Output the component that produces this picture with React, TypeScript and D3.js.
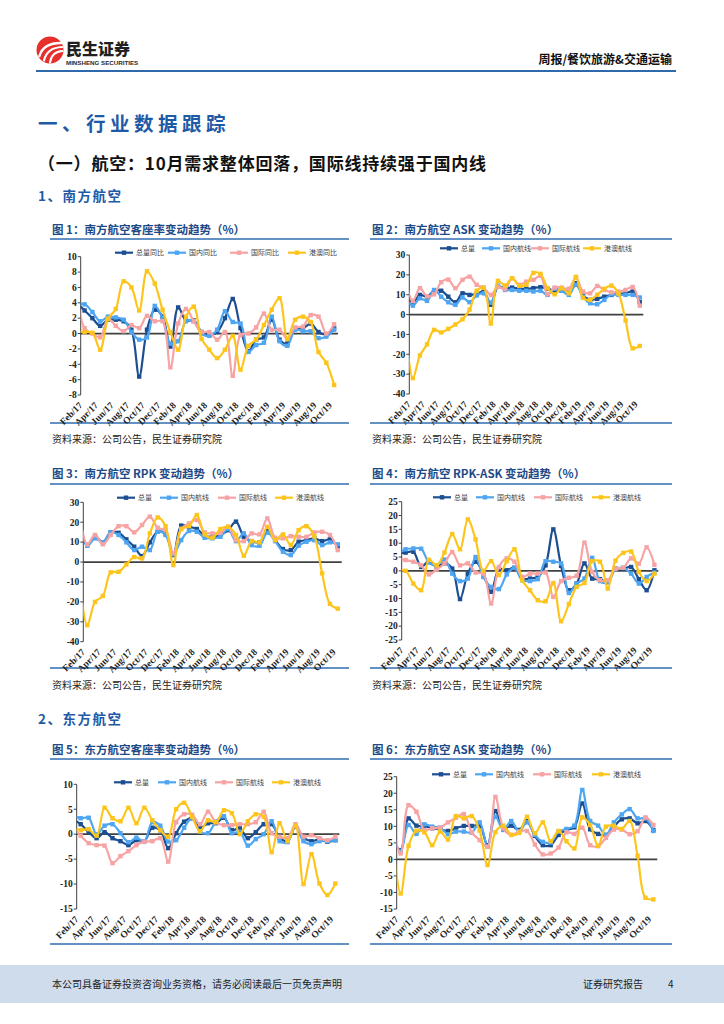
import React from 'react';
import * as d3 from 'd3';

// Month categories. Index 0 (Jan/17) is the lead-in value that Excel draws from the axis edge.
const MONTHS = [
  'Jan/17', 'Feb/17', 'Mar/17', 'Apr/17', 'May/17', 'Jun/17', 'Jul/17', 'Aug/17', 'Sep/17', 'Oct/17', 'Nov/17', 'Dec/17',
  'Jan/18', 'Feb/18', 'Mar/18', 'Apr/18', 'May/18', 'Jun/18', 'Jul/18', 'Aug/18', 'Sep/18', 'Oct/18', 'Nov/18', 'Dec/18',
  'Jan/19', 'Feb/19', 'Mar/19', 'Apr/19', 'May/19', 'Jun/19', 'Jul/19', 'Aug/19', 'Sep/19', 'Oct/19',
];

const LEGEND_A = ['总量同比', '国内同比', '国际同比', '港澳同比'];
const LEGEND_B = ['总量', '国内航线', '国际航线', '港澳航线'];

// 图1 南方航空客座率变动
const c1Total = [4.0, 3.0, 2.0, 1.0, 1.8, 1.8, 1.6, 0.5, -5.6, 0.5, 3.1, 2.2, -1.7, 3.4, 1.7, 1.7, 0.2, -0.2, 0.2, 2.0, 4.5, 0.7, -2.3, -0.8, -0.5, 1.8, -0.8, -1.3, 0.7, 0.7, 1.3, 0.2, -0.1, 0.7];
const c1Dom = [3.8, 3.8, 2.8, 1.6, 2.2, 2.1, 1.8, 0.2, -0.8, -0.5, 3.6, 2.0, -1.3, -1.0, 1.6, 1.6, 0.0, -0.3, 0.5, 2.9, 1.5, 1.3, -2.4, -1.5, -1.2, 2.2, -1.0, -1.6, 0.5, 0.3, 0.3, -0.6, -0.4, 0.5];
const c1Intl = [5.1, 0.7, 0.0, -0.5, 1.9, 1.0, 0.3, 1.1, 0.7, 2.3, 1.6, 1.6, -4.4, 1.3, 3.2, 1.6, 0.2, 0.2, -0.8, 0.2, -5.5, -0.2, 0.0, 0.8, 2.6, 0.5, 0.5, -0.7, 0.8, 0.9, 2.4, 2.2, 0.0, 1.2];
const c1HK = [0.2, 0.2, 0.1, -2.1, 1.9, 3.2, 6.8, 6.0, 3.0, 8.1, 6.5, 3.1, 0.2, -2.1, 2.2, 3.5, -0.7, -2.1, -3.2, -2.1, -0.3, -4.7, -1.6, -0.8, 1.1, 3.1, 4.6, -0.7, 1.8, 2.2, 1.5, -2.4, -3.8, -6.7];

// 图2 南方航空 ASK
const c2Total = [8.6, 6.2, 9.9, 9.0, 12.0, 12.0, 9.0, 6.2, 10.7, 9.9, 10.4, 11.6, 4.9, 14.0, 13.3, 13.6, 13.0, 13.0, 13.3, 13.8, 13.0, 12.0, 12.0, 12.0, 15.8, 9.6, 7.4, 7.9, 9.0, 9.9, 10.4, 10.7, 11.6, 6.2];
const c2Dom = [7.9, 4.5, 8.2, 6.9, 12.4, 9.0, 6.2, 4.9, 8.6, 6.2, 9.6, 10.7, 6.0, 14.6, 12.4, 12.4, 12.0, 12.0, 11.6, 12.0, 9.9, 13.0, 12.0, 9.9, 15.0, 9.0, 5.7, 5.2, 7.4, 10.2, 9.9, 9.9, 9.9, 8.6];
const c2Intl = [17.0, 6.9, 13.3, 9.2, 10.2, 16.3, 17.6, 13.3, 17.5, 19.1, 15.0, 13.6, 9.9, 14.0, 12.8, 18.3, 15.0, 16.6, 17.5, 19.5, 10.2, 13.6, 13.6, 13.0, 18.6, 11.6, 10.7, 14.4, 12.4, 11.2, 11.6, 12.4, 13.9, 4.5];
const c2HK = [-8.6, -32.0, -20.6, -15.0, -7.7, -9.0, -7.2, -5.0, -2.4, 2.5, 12.0, 13.5, -4.5, 17.0, 14.6, 18.3, 14.5, 15.0, 21.0, 20.5, 13.3, 10.2, 13.3, 10.7, 19.0, 8.4, 7.4, 10.0, 13.0, 14.6, 10.6, -3.0, -17.0, -15.8];

// 图3 南方航空 RPK
const c3Total = [15.5, 8.5, 12.7, 9.9, 14.9, 14.7, 11.4, 7.7, 3.0, 9.9, 15.2, 14.4, 3.5, 18.3, 17.7, 16.6, 13.2, 12.7, 13.6, 16.0, 20.3, 12.7, 10.5, 9.9, 16.0, 11.0, 6.5, 6.0, 10.2, 11.0, 11.9, 10.5, 11.4, 7.7];
const c3Dom = [19.8, 8.2, 11.9, 9.9, 14.9, 13.6, 9.9, 6.0, 7.7, 6.0, 15.2, 13.6, 3.9, 11.0, 15.6, 15.2, 12.2, 11.9, 12.7, 16.6, 10.5, 14.4, 8.5, 8.2, 14.7, 10.5, 5.2, 3.5, 8.2, 10.2, 11.0, 8.5, 9.9, 8.9];
const c3Intl = [24.0, 8.9, 13.6, 8.9, 13.6, 18.0, 18.0, 14.9, 18.6, 22.8, 17.2, 16.0, 4.4, 16.6, 19.4, 21.1, 14.9, 14.4, 14.7, 17.7, 11.0, 10.5, 14.4, 13.9, 21.9, 12.2, 11.9, 13.0, 12.7, 12.7, 14.9, 15.2, 13.6, 6.0];
const c3HK = [-8.3, -31.7, -20.0, -17.0, -5.2, -4.9, -1.2, 2.5, 1.8, 14.4, 22.4, 18.0, -1.5, 16.6, 18.0, 23.6, 13.9, 12.2, 16.6, 17.7, 13.6, 3.2, 10.5, 9.9, 17.7, 11.0, 13.9, 8.5, 16.0, 18.0, 13.0, -5.7, -21.0, -23.4];

// 图4 南方航空 RPK-ASK
const c4Total = [6.4, 6.6, 6.9, 1.4, 3.5, 1.4, 2.7, 0.8, -10.2, -1.0, 3.3, -1.0, -7.6, 0.6, 0.2, 1.1, -2.8, -2.8, -2.2, 2.0, 15.0, 1.8, -7.0, -4.6, 2.7, -2.8, -3.0, -4.0, 0.8, 0.8, 1.4, -3.0, -7.0, 0.2];
const c4Dom = [6.2, 7.8, 8.1, 8.0, 3.0, 2.0, 4.1, -1.0, -3.7, -2.8, 5.0, -2.2, -5.8, -6.6, -1.3, 1.1, -3.4, -3.7, -3.0, 3.5, 3.3, 2.7, -8.0, -4.6, -2.8, 4.7, -3.7, -4.2, 0.6, 1.1, -1.0, -4.6, -2.2, -0.6];
const c4Intl = [4.1, 3.9, 3.3, 2.0, -1.3, 0.5, 2.7, 6.8, 2.0, 2.7, -0.6, -1.0, -11.8, 1.4, 4.5, 3.3, -2.2, -1.0, -1.0, -0.6, -9.4, -3.7, -2.5, -1.8, 10.2, -0.4, -3.4, -3.4, 0.8, 1.1, 4.5, 2.6, 8.5, 2.2];
const c4HK = [0.0, 0.0, -4.6, -7.0, 4.0, 2.0, 6.6, 13.3, 7.8, 18.6, 11.4, 0.0, 3.5, -1.5, 3.5, 7.8, -3.4, -7.0, -10.6, -11.0, -4.4, -18.2, -12.0, -5.8, -4.4, 3.5, 3.3, -6.4, 3.7, 6.5, 7.0, -0.4, -3.7, -1.0];

// 图5 东方航空客座率变动
const c5Total = [3.0, 2.0, 0.4, -0.8, 0.4, -0.8, -1.4, -2.2, -1.2, -1.4, 1.3, 0.8, -2.8, 0.2, 2.5, 3.2, 1.3, 2.2, 2.2, 3.3, 0.8, 1.2, -0.8, 0.4, 2.0, 2.0, -0.7, -1.4, 1.5, -0.7, -1.4, -1.0, -1.5, -1.2];
const c5Dom = [3.8, 3.2, 3.3, 0.0, 1.7, 2.0, 0.2, -1.6, -0.7, -1.4, 2.4, 1.7, -1.5, -1.2, 1.3, 3.2, 0.5, 0.2, 2.5, 3.6, 0.2, 0.5, -2.3, -1.0, 0.0, 2.6, -1.4, -1.6, 1.5, -1.4, -2.0, -1.4, -1.4, -1.2];
const c5Intl = [1.3, -0.3, -1.8, -2.2, -2.3, -5.8, -4.4, -3.4, -2.2, -1.5, -1.4, -0.8, -5.5, 2.4, 4.0, 3.9, 2.0, 4.5, 2.4, 1.8, 1.8, 2.0, 2.0, 2.4, 4.5, 0.2, -0.5, -0.8, 2.0, -0.5, -0.2, -0.8, -1.2, -0.5];
const c5HK = [1.2, 0.8, 1.0, -0.3, 5.3, 3.2, 2.6, 5.3, 2.2, 5.3, 2.8, 0.8, -0.5, 5.0, 6.3, 3.5, 0.6, 2.8, 2.4, 4.8, 4.2, 0.0, 2.6, 4.0, 3.5, -3.6, 2.2, -1.4, 1.7, -10.0, -4.0, -9.9, -12.2, -9.9];

// 图6 东方航空 ASK
const c6Total = [5.8, 2.8, 12.4, 10.2, 10.1, 9.4, 9.1, 8.6, 9.4, 10.1, 10.1, 10.2, 4.3, 14.6, 9.2, 10.2, 8.9, 11.6, 7.1, 4.3, 4.3, 7.4, 8.9, 9.7, 16.9, 9.1, 7.7, 7.4, 9.9, 12.1, 12.4, 10.9, 11.6, 8.9];
const c6Dom = [7.1, 2.5, 10.4, 7.7, 10.6, 9.9, 9.6, 7.6, 8.4, 8.4, 8.1, 11.2, 3.8, 12.9, 8.9, 11.6, 8.4, 11.2, 7.4, 5.3, 5.1, 8.4, 9.2, 10.2, 21.0, 11.6, 10.2, 7.4, 11.2, 13.6, 15.2, 12.4, 12.4, 8.6];
const c6Intl = [8.8, 1.8, 16.4, 14.4, 8.9, 9.4, 9.6, 11.2, 12.6, 13.7, 8.2, 5.8, 3.8, 18.9, 9.4, 7.4, 8.4, 8.6, 4.5, 1.5, 1.8, 3.6, 8.2, 7.7, 9.6, 4.3, 4.0, 6.5, 9.0, 9.0, 7.6, 8.5, 12.7, 10.4];
const c6HK = [4.9, -10.3, 4.1, 8.7, 8.2, 4.3, 8.4, 6.0, 13.1, 12.4, 13.1, 8.7, -1.7, 8.2, 10.2, 7.4, 8.0, 12.9, 7.9, 11.2, 5.5, 8.6, 5.5, 3.3, 12.7, 10.4, 4.1, 9.9, 10.2, 9.2, 11.6, 1.1, -11.6, -12.1];

const COLORS = ['#1c4f92', '#4ea6f2', '#f7a3a4', '#fdc51c'];
const CJK = "'Noto Sans CJK SC', 'Noto Sans', sans-serif";
const SERIF = "'Liberation Serif', 'DejaVu Serif', serif";
const BLUE = '#1f5aa6';
const TITLE_BLUE = '#1d4a86';

type ChartProps = {
  id: string;
  title: string;
  frameX0: number;
  frameX1: number;
  titleY: number;
  lineY: number;
  bottomY: number;
  source?: string;
  sourceY?: number;
  x0: number;
  x1: number;
  yTopPx: number;
  yBotPx: number;
  yMin: number;
  yMax: number;
  yStep: number;
  series: number[][];
  legendY: number;
  legendX: number[];
  legendLabels: string[];
};

function LineChart(p: ChartProps) {
  const x = d3.scaleLinear().domain([0.5, MONTHS.length - 0.5]).range([p.x0, p.x1]);
  const y = d3.scaleLinear().domain([p.yMin, p.yMax]).range([p.yBotPx, p.yTopPx]);
  const ticks = d3.range(p.yMin, p.yMax + p.yStep / 2, p.yStep);
  const line = d3
    .line<number>()
    .x((_, i) => x(i))
    .y((d) => y(d))
    .curve(d3.curveCatmullRom.alpha(0.5));
  const clipId = `clip-${p.id}`;
  const labelIdx = d3.range(1, MONTHS.length, 2);
  return (
    <g>
      <text x={p.frameX0 + 2} y={p.titleY} fontFamily={CJK} fontWeight={700} fontSize={11.5} fill={TITLE_BLUE}>
        {p.title}
      </text>
      <line x1={p.frameX0} x2={p.frameX1} y1={p.lineY} y2={p.lineY} stroke="#2f6db0" strokeWidth={1.6} />
      <line x1={p.frameX0} x2={p.frameX1} y1={p.bottomY} y2={p.bottomY} stroke="#2f6db0" strokeWidth={1.6} />
      {p.source && (
        <text x={p.frameX0 + 2} y={p.sourceY} fontFamily={CJK} fontSize={10} fill="#222">
          {p.source}
        </text>
      )}
      <defs>
        <clipPath id={clipId}>
          <rect x={p.x0} y={p.yTopPx - 20} width={p.x1 - p.x0 + 12} height={p.yBotPx - p.yTopPx + 40} />
        </clipPath>
      </defs>
      {/* y axis */}
      <line x1={p.x0} x2={p.x0} y1={p.yTopPx} y2={p.yBotPx} stroke="#404040" strokeWidth={1} />
      {ticks.map((t) => (
        <g key={t}>
          <line x1={p.x0 - 3} x2={p.x0} y1={y(t)} y2={y(t)} stroke="#404040" strokeWidth={1} />
          <text x={p.x0 - 4} y={y(t) + 3.3} textAnchor="end" fontFamily={SERIF} fontWeight={700} fontSize={9.5} fill="#222">
            {t}
          </text>
        </g>
      ))}
      {/* zero axis */}
      <line x1={p.x0} x2={p.x1} y1={y(0)} y2={y(0)} stroke="#404040" strokeWidth={1.8} />
      {labelIdx.map((i) => (
        <text
          key={i}
          transform={`translate(${x(i) - 1.5},${p.yBotPx + 11}) rotate(-45)`}
          textAnchor="end"
          fontFamily={SERIF}
          fontWeight={700}
          fontSize={9.5}
          fill="#222"
        >
          {MONTHS[i]}
        </text>
      ))}
      {/* series */}
      <g clipPath={`url(#${clipId})`}>
        {p.series.map((vals, k) => (
          <g key={k}>
            <path d={line(vals) || ''} fill="none" stroke={COLORS[k]} strokeWidth={2.2} strokeLinejoin="round" />
            {vals.map((v, i) =>
              i === 0 ? null : (
                <rect key={i} x={x(i) - 2.2} y={y(v) - 2.2} width={4.4} height={4.4} fill={COLORS[k]} />
              )
            )}
          </g>
        ))}
      </g>
      {/* legend */}
      {p.legendLabels.map((lab, k) => (
        <g key={lab}>
          <line x1={p.legendX[k]} x2={p.legendX[k] + 18} y1={p.legendY} y2={p.legendY} stroke={COLORS[k]} strokeWidth={2.2} />
          <rect x={p.legendX[k] + 9 - 2.2} y={p.legendY - 2.2} width={4.4} height={4.4} fill={COLORS[k]} />
          <text x={p.legendX[k] + 21} y={p.legendY + 2.6} fontFamily={CJK} fontSize={7} fill="#444">
            {lab}
          </text>
        </g>
      ))}
    </g>
  );
}

function Logo() {
  return (
    <g>
      <circle cx={50} cy={50} r={13.5} fill="#e5302b" />
      <path d="M39.5,56 C42,47 49,43 61,43" fill="none" stroke="#fff" strokeWidth={2.4} strokeLinecap="round" />
      <path d="M44,60.5 C46,52 51,47.5 62,47" fill="none" stroke="#fff" strokeWidth={2.2} strokeLinecap="round" />
      <path d="M50,62.5 C51,56 54,51.5 62.5,51" fill="none" stroke="#fff" strokeWidth={2} strokeLinecap="round" />
    </g>
  );
}

export default function App() {
  const SRC = '资料来源：公司公告，民生证券研究院';
  return (
    <svg
      width={724}
      height={1024}
      viewBox="0 0 724 1024"
      style={{ position: 'absolute', left: 0, top: 0, background: '#fff' }}
    >
      <rect x={0} y={0} width={724} height={1024} fill="#fff" />
      {/* header */}
      <Logo />
      <text x={66} y={55} fontFamily={CJK} fontWeight={900} fontSize={16} fill="#231f20">
        民生证券
      </text>
      <text x={66} y={65} fontFamily="'Liberation Sans', Arial, sans-serif" fontWeight={700} fontSize={6.2} fill="#2a2a2a">
        MINSHENG SECURITIES
      </text>
      <text x={672} y={64} textAnchor="end" fontFamily={CJK} fontWeight={700} fontSize={12} fill="#111">
        周报/餐饮旅游&amp;交通运输
      </text>
      <line x1={36} x2={676} y1={71} y2={71} stroke="#2d69ab" strokeWidth={2} />

      <text x={38} y={131} fontFamily={CJK} fontWeight={700} fontSize={19.5} fill={BLUE} letterSpacing={4.5}>
        一、行业数据跟踪
      </text>
      <text x={38} y={170} fontFamily={CJK} fontWeight={700} fontSize={17} fill="#111" letterSpacing={0.8}>
        （一）航空：10月需求整体回落，国际线持续强于国内线
      </text>
      <text x={38} y={201} fontFamily={CJK} fontWeight={700} fontSize={13.5} fill={BLUE} letterSpacing={1.5}>
        1、南方航空
      </text>

      <LineChart
        id="c1"
        title="图 1：南方航空客座率变动趋势（%）"
        frameX0={50}
        frameX1={349}
        titleY={234}
        lineY={239}
        bottomY={423}
        source={SRC}
        sourceY={443}
        x0={80.7}
        x1={338}
        yTopPx={256.7}
        yBotPx={395}
        yMin={-8}
        yMax={10}
        yStep={2}
        series={[c1Total, c1Dom, c1Intl, c1HK]}
        legendY={252.7}
        legendX={[115, 168, 230, 288]}
        legendLabels={LEGEND_A}
      />
      <LineChart
        id="c2"
        title="图 2：南方航空 ASK 变动趋势（%）"
        frameX0={370}
        frameX1={672}
        titleY={234}
        lineY={239}
        bottomY={423}
        source={SRC}
        sourceY={443}
        x0={409.3}
        x1={643.3}
        yTopPx={255}
        yBotPx={394}
        yMin={-40}
        yMax={30}
        yStep={10}
        series={[c2Total, c2Dom, c2Intl, c2HK]}
        legendY={248.3}
        legendX={[440, 482, 531, 583]}
        legendLabels={LEGEND_B}
      />
      <LineChart
        id="c3"
        title="图 3：南方航空 RPK 变动趋势（%）"
        frameX0={50}
        frameX1={349}
        titleY={478}
        lineY={484}
        bottomY={668}
        source={SRC}
        sourceY={689}
        x0={83.3}
        x1={341.7}
        yTopPx={502.3}
        yBotPx={641.7}
        yMin={-40}
        yMax={30}
        yStep={10}
        series={[c3Total, c3Dom, c3Intl, c3HK]}
        legendY={497.7}
        legendX={[117, 160, 218, 275]}
        legendLabels={LEGEND_B}
      />
      <LineChart
        id="c4"
        title="图 4：南方航空 RPK-ASK 变动趋势（%）"
        frameX0={370}
        frameX1={672}
        titleY={478}
        lineY={484}
        bottomY={668}
        source={SRC}
        sourceY={689}
        x0={401.7}
        x1={658.3}
        yTopPx={501.7}
        yBotPx={640}
        yMin={-25}
        yMax={25}
        yStep={5}
        series={[c4Total, c4Dom, c4Intl, c4HK]}
        legendY={497.3}
        legendX={[433, 476, 534, 592]}
        legendLabels={LEGEND_B}
      />

      <text x={38} y={724} fontFamily={CJK} fontWeight={700} fontSize={13.5} fill={BLUE} letterSpacing={1.5}>
        2、东方航空
      </text>

      <LineChart
        id="c5"
        title="图 5：东方航空客座率变动趋势（%）"
        frameX0={50}
        frameX1={349}
        titleY={754}
        lineY={759}
        bottomY={944}
        x0={76.7}
        x1={339.3}
        yTopPx={784.3}
        yBotPx={909}
        yMin={-15}
        yMax={10}
        yStep={5}
        series={[c5Total, c5Dom, c5Intl, c5HK]}
        legendY={782.3}
        legendX={[114, 158, 215, 272]}
        legendLabels={LEGEND_B}
      />
      <LineChart
        id="c6"
        title="图 6：东方航空 ASK 变动趋势（%）"
        frameX0={370}
        frameX1={672}
        titleY={754}
        lineY={759}
        bottomY={944}
        x0={396.7}
        x1={657.3}
        yTopPx={776.7}
        yBotPx={909}
        yMin={-15}
        yMax={25}
        yStep={5}
        series={[c6Total, c6Dom, c6Intl, c6HK]}
        legendY={774.3}
        legendX={[432, 475, 533, 592]}
        legendLabels={LEGEND_B}
      />

      {/* footer */}
      <rect x={0} y={965} width={724} height={38} fill="#cfdcec" />
      <text x={52} y={988} fontFamily={CJK} fontSize={10} fill="#222">
        本公司具备证券投资咨询业务资格，请务必阅读最后一页免责声明
      </text>
      <text x={583} y={988} fontFamily={CJK} fontSize={10} fill="#222">
        证券研究报告
      </text>
      <text x={668} y={988} fontFamily={CJK} fontSize={10} fill="#222">
        4
      </text>
    </svg>
  );
}
